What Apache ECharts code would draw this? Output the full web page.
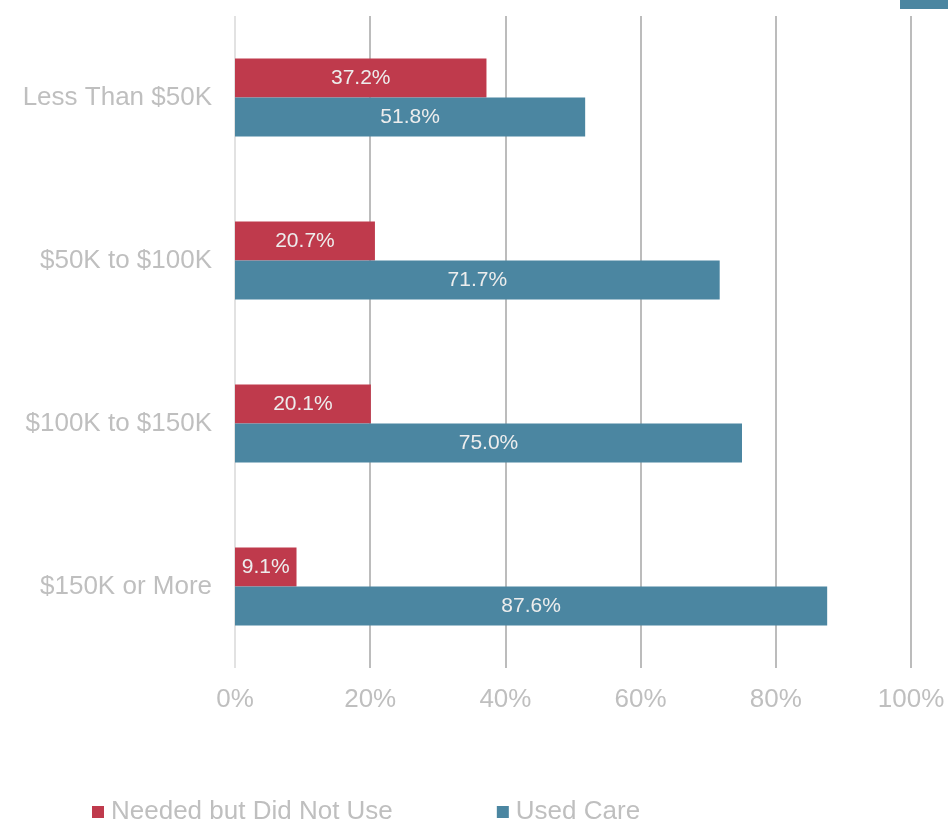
<!DOCTYPE html>
<html>
<head>
<meta charset="utf-8">
<script src="https://cdn.jsdelivr.net/npm/echarts@6/dist/echarts.min.js"></script>
<style>html,body{margin:0;padding:0;background:#fff}#c{width:948px;height:821px}</style>
</head>
<body>
<div id="c"></div>
<script>
const categories = ['Less Than $50K', '$50K to $100K', '$100K to $150K', '$150K or More'];
const neededButDidNotUse = [37.2, 20.7, 20.1, 9.1];
const usedCare = [51.8, 71.7, 75.0, 87.6];
const xTicks = [0, 20, 40, 60, 80, 100];

const FONT = "'Liberation Sans', Arial, sans-serif";
const RED = '#BF3A4C';
const BLUE = '#4B86A1';
const chart = echarts.init(document.getElementById('c'));
const labelCfg = {
  show: true, position: 'inside', color: '#EDEDED', fontSize: 21, fontFamily: FONT,
  formatter: p => p.value.toFixed(1) + '%'
};
chart.setOption({
  animation: false,
  textStyle: { fontFamily: FONT },
  grid: { left: 235, right: 37, top: 16, bottom: 153, containLabel: false },
  legend: {
    left: 87, top: 794, itemWidth: 12, itemHeight: 12, itemGap: 104,
    icon: 'rect',
    textStyle: { color: '#BFBFBF', fontSize: 26, fontFamily: FONT, padding: [0, 0, 0, 2] },
    data: ['Needed but Did Not Use', 'Used Care']
  },
  xAxis: {
    type: 'value', min: xTicks[0], max: xTicks[xTicks.length - 1], interval: 20,
    axisLine: { show: false }, axisTick: { show: false },
    axisLabel: { color: '#BFBFBF', fontSize: 26, fontFamily: FONT, margin: 19, formatter: v => v + '%' },
    splitLine: { show: true, lineStyle: { color: ['#D9D9D9', '#A6A6A6', '#A6A6A6', '#A6A6A6', '#A6A6A6', '#A6A6A6'], width: 1.5 } }
  },
  yAxis: {
    type: 'category', data: categories, inverse: true,
    axisLine: { show: false }, axisTick: { show: false },
    axisLabel: { color: '#BFBFBF', fontSize: 26, fontFamily: FONT, margin: 23 }
  },
  series: [
    { name: 'Needed but Did Not Use', type: 'bar', data: neededButDidNotUse, barWidth: 39, barGap: '0%', itemStyle: { color: RED }, label: labelCfg },
    { name: 'Used Care', type: 'bar', data: usedCare, barWidth: 39, barGap: '0%', itemStyle: { color: BLUE }, label: labelCfg }
  ],
  graphic: [
    { type: 'rect', shape: { x: 900, y: 0, width: 48, height: 9 }, style: { fill: BLUE } }
  ]
});
</script>
</body>
</html>
